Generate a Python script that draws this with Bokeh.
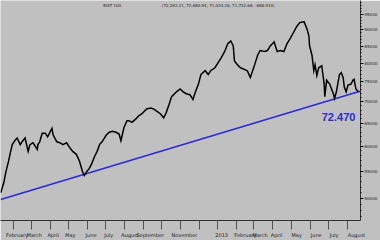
import pandas as pd
from bokeh.plotting import figure
from bokeh.models import Range1d, FixedTicker, Label, CustomJSTickFormatter, NumeralTickFormatter
from bokeh.embed import file_html
from bokeh.resources import INLINE

# ---------------- data ----------------
dates = [
    "2012-01-11", "2012-01-16", "2012-01-19", "2012-01-24", "2012-01-27", "2012-01-30", "2012-02-04", "2012-02-07", "2012-02-12", "2012-02-15",
    "2012-02-20", "2012-02-25", "2012-02-28", "2012-03-04", "2012-03-11", "2012-03-12", "2012-03-15", "2012-03-19", "2012-03-24", "2012-03-28",
    "2012-04-04", "2012-04-06", "2012-04-12", "2012-04-17", "2012-04-22", "2012-04-28", "2012-05-03", "2012-05-08", "2012-05-14", "2012-05-19",
    "2012-05-24", "2012-05-27", "2012-05-31", "2012-06-04", "2012-06-08", "2012-06-13", "2012-06-17", "2012-06-21", "2012-06-25", "2012-07-02",
    "2012-07-07", "2012-07-12", "2012-07-18", "2012-07-23", "2012-07-26", "2012-07-31", "2012-08-05", "2012-08-08", "2012-08-13", "2012-08-20",
    "2012-08-24", "2012-08-29", "2012-09-06", "2012-09-13", "2012-09-18", "2012-09-22", "2012-09-29", "2012-10-04", "2012-10-08", "2012-10-13",
    "2012-10-17", "2012-10-25", "2012-10-31", "2012-11-05", "2012-11-10", "2012-11-16", "2012-11-21", "2012-11-24", "2012-11-30", "2012-12-04",
    "2012-12-11", "2012-12-16", "2012-12-20", "2012-12-27", "2013-01-01", "2013-01-06", "2013-01-12", "2013-01-17", "2013-01-22", "2013-01-26",
    "2013-01-28", "2013-02-02", "2013-02-07", "2013-02-14", "2013-02-18", "2013-02-23", "2013-03-02", "2013-03-07", "2013-03-11", "2013-03-18",
    "2013-03-23", "2013-03-28", "2013-04-03", "2013-04-08", "2013-04-13", "2013-04-19", "2013-04-24", "2013-04-29", "2013-05-05", "2013-05-10",
    "2013-05-15", "2013-05-22", "2013-05-27", "2013-05-30", "2013-05-31", "2013-06-04", "2013-06-07", "2013-06-09", "2013-06-12", "2013-06-15",
    "2013-06-20", "2013-06-24", "2013-06-25", "2013-06-28", "2013-07-03", "2013-07-09", "2013-07-11", "2013-07-14", "2013-07-19", "2013-07-22",
    "2013-07-25", "2013-07-27", "2013-07-30", "2013-08-02", "2013-08-07", "2013-08-10", "2013-08-12", "2013-08-15", "2013-08-19",
]
close = [
    51000, 52750, 54550, 56970, 58700, 60300, 61300, 61700, 60300, 60900,
    61700, 58900, 60300, 60700, 59300, 60300, 60900, 62750, 62750, 61950,
    63800, 62350, 60900, 60700, 60300, 60700, 59700, 58900, 58300, 56970,
    54900, 54180, 54900, 55460, 56400, 57920, 58900, 60300, 60900, 62350,
    62950, 63190, 62950, 62550, 61110, 64000, 65550, 65550, 65150, 66000,
    66670, 67100, 68250, 68470, 68250, 67800, 67100, 66200, 67350, 69400,
    71270, 72480, 73200, 72480, 72000, 71750, 70570, 72000, 74450, 76960,
    78000, 76960, 78000, 78800, 80130, 81500, 83400, 85670, 86530, 85100,
    80670, 79600, 78800, 78280, 78000, 76200, 79600, 82320, 83680, 83400,
    83680, 85100, 86240, 83400, 83680, 83400, 85670, 87110, 89180, 91000,
    92220, 92530, 90100, 88000, 85100, 82320, 78000, 79600, 76700, 78800,
    79330, 74450, 71270, 75450, 74450, 72000, 70800, 72480, 76960, 77480,
    76200, 73700, 72480, 74200, 74450, 75450, 75700, 73200, 72480,
]

trend_dates = ["2012-01-11", "2013-08-19", "2013-09-10"]
trend_values = [49800, 72470, 73500]
trend_label = "72.470"

month_tick_dates = ["2012-02-07", "2012-03-06", "2012-04-06", "2012-05-04", "2012-06-07", "2012-07-06",
                    "2012-08-10", "2012-09-12", "2012-11-07", "2013-01-07", "2013-02-15", "2013-03-11",
                    "2013-04-07", "2013-05-10", "2013-06-11", "2013-07-10", "2013-08-16"]
month_tick_labels = ["February", "March", "April", "May", "June", "July",
                     "August", "September", "November", "2013", "February", "March",
                     "April", "May", "June", "July", "August"]
month_starts = ["2012-02-01", "2012-03-01", "2012-04-01", "2012-05-01", "2012-06-01", "2012-07-01",
                "2012-08-01", "2012-09-01", "2012-10-01", "2012-11-01", "2012-12-01", "2013-01-01",
                "2013-02-01", "2013-03-01", "2013-04-01", "2013-05-01", "2013-06-01", "2013-07-01",
                "2013-08-01"]
price_ticks = [50000, 55000, 60000, 65000, 70000, 75000, 80000, 85000, 90000, 95000]

title_text = "BIST 100"
ohlc_text = "(72,283.21, 72,680.94, 71,034.16, 71,722.66, -688.910)"

# ---------------- figure ----------------
BG = "#c0c0c0"
BLUE = "#2a2ad6"

def ms(d):
    return pd.Timestamp(d).value / 1e6

x = pd.to_datetime(dates)

p = figure(width=380, height=240, x_axis_type="datetime", y_axis_type="log",
           y_axis_location="right", output_backend="svg", toolbar_location=None,
           x_range=Range1d(pd.Timestamp("2012-01-10 17:00"), pd.Timestamp("2013-08-22 12:00")),
           y_range=Range1d(46300, 99600),
           min_border_left=0, min_border_top=0, min_border_right=16, min_border_bottom=11,
           background_fill_color=BG, border_fill_color=BG, outline_line_color=None)
p.grid.visible = False

p.line(pd.to_datetime(trend_dates), trend_values, line_color=BLUE, line_width=1.6)
p.line(x, close, line_color="black", line_width=1.5, line_join="miter")

# x axis
xa = p.xaxis[0]
tick_ms = [ms(d) for d in month_tick_dates]
xa.ticker = FixedTicker(ticks=tick_ms, minor_ticks=[ms(d) for d in month_starts])
xa.formatter = CustomJSTickFormatter(args=dict(tvals=tick_ms, tlabels=month_tick_labels),
                                     code="const i = tvals.indexOf(tick); return i >= 0 ? tlabels[i] : '';")
xa.major_tick_out = 0
xa.major_tick_in = 0
xa.minor_tick_out = 9
xa.minor_tick_in = 0
xa.minor_tick_line_color = "#505050"
xa.axis_line_color = "#303030"
xa.major_label_text_font = "DejaVu Sans"
xa.major_label_text_font_size = "5px"
xa.major_label_text_color = "#202020"
xa.major_label_standoff = 2

# y axis (right, log)
ya = p.yaxis[0]
ya.ticker = FixedTicker(ticks=price_ticks, minor_ticks=list(range(47000, 99001, 1000)))
ya.formatter = NumeralTickFormatter(format="0")
ya.major_tick_out = 3
ya.major_tick_in = 0
ya.minor_tick_out = 1
ya.minor_tick_in = 0
ya.axis_line_color = "#303030"
ya.major_label_text_font = "DejaVu Sans"
ya.major_label_text_font_size = "4px"
ya.major_label_text_color = "#202020"
ya.major_label_standoff = 1

p.add_layout(Label(x=pd.Timestamp("2013-06-20"), y=66450, text=trend_label, text_color=BLUE,
                   text_font="Liberation Sans", text_font_size="11px", text_font_style="bold",
                   text_baseline="middle", text_align="left"))
p.add_layout(Label(x=pd.Timestamp("2012-06-27"), y=98000, text=title_text, text_color="#202020",
                   text_font="DejaVu Sans", text_font_size="4px", text_baseline="middle"))
p.add_layout(Label(x=pd.Timestamp("2012-10-01"), y=98000, text=ohlc_text, text_color="#202020",
                   text_font="DejaVu Sans", text_font_size="4px", text_baseline="middle"))

open("out.html", "w").write(file_html(p, INLINE))
